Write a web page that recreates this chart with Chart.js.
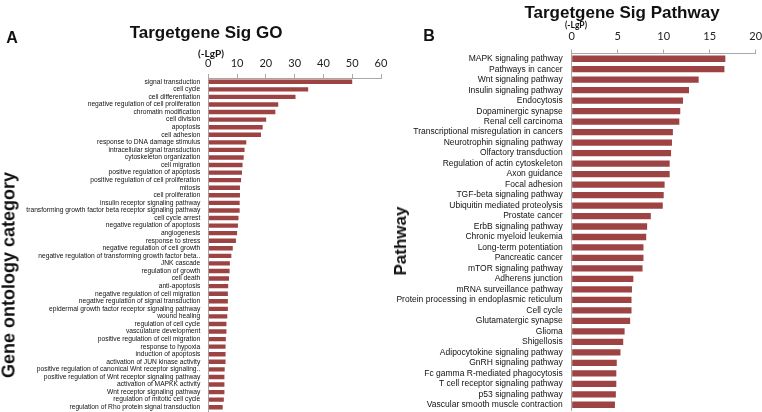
<!DOCTYPE html>
<html>
<head>
<meta charset="utf-8">
<script src="https://cdn.jsdelivr.net/npm/chart.js"></script>
<style>
  html, body { margin: 0; padding: 0; background: #fff; }
  body { width: 762px; height: 412px; position: relative; overflow: hidden; font-family: 'Liberation Sans', Arial, sans-serif; }
  canvas { position: absolute; top: 0; }
  .txt { position: absolute; transform: translate(-50%, -50%); white-space: nowrap; color: #111; font-weight: bold; }
  .rot { transform: translate(-50%, -50%) rotate(-90deg); }
</style>
</head>
<body>
<canvas id="goChart" width="400" height="412" style="left:0"></canvas>
<canvas id="pathChart" width="382" height="412" style="left:380px"></canvas>

<div class="txt" style="left:12px;top:38px;font-size:16px">A</div>
<div class="txt" style="left:206px;top:33px;font-size:17px">Targetgene Sig GO</div>
<div class="txt" style="left:211px;top:53px;font-size:10px;font-family:Lato">(-LgP)</div>
<div class="txt rot" style="left:9px;top:275px;font-size:18px">Gene ontology category</div>

<div class="txt" style="left:429px;top:36px;font-size:16px">B</div>
<div class="txt" style="left:622px;top:13px;font-size:17px">Targetgene Sig Pathway</div>
<div class="txt" style="left:576px;top:25px;font-size:8.5px;font-family:Lato">(-LgP)</div>
<div class="txt rot" style="left:401px;top:241px;font-size:17px">Pathway</div>

<script>
// GO terms (panel A)
const goLabels = [
  'signal transduction', 'cell cycle', 'cell differentiation',
  'negative regulation of cell proliferation', 'chromatin modification', 'cell division',
  'apoptosis', 'cell adhesion', 'response to DNA damage stimulus',
  'intracellular signal transduction', 'cytoskeleton organization', 'cell migration',
  'positive regulation of apoptosis', 'positive regulation of cell proliferation', 'mitosis',
  'cell proliferation', 'insulin receptor signaling pathway',
  'transforming growth factor beta receptor signaling pathway', 'cell cycle arrest',
  'negative regulation of apoptosis', 'angiogenesis', 'response to stress',
  'negative regulation of cell growth', 'negative regulation of transforming growth factor beta..',
  'JNK cascade', 'regulation of growth', 'cell death', 'anti-apoptosis',
  'negative regulation of cell migration', 'negative regulation of signal transduction',
  'epidermal growth factor receptor signaling pathway', 'wound healing',
  'regulation of cell cycle', 'vasculature development', 'positive regulation of cell migration',
  'response to hypoxia', 'induction of apoptosis', 'activation of JUN kinase activity',
  'positive regulation of canonical Wnt receptor signaling..',
  'positive regulation of Wnt receptor signaling pathway', 'activation of MAPKK activity',
  'Wnt receptor signaling pathway', 'regulation of mitotic cell cycle',
  'regulation of Rho protein signal transduction'
]
const goValues = [
  50.0, 34.7, 30.3, 24.3, 23.3, 20.1, 18.9, 18.3, 13.2, 12.6, 12.3, 11.9,
  11.7, 11.4, 11.0, 11.0, 10.9, 10.9, 10.5, 10.3, 10.0, 9.6, 8.5, 8.0,
  7.5, 7.4, 7.2, 6.9, 6.8, 6.8, 6.8, 6.6, 6.3, 6.3, 6.1, 6.0,
  6.0, 6.0, 5.7, 5.6, 5.6, 5.6, 5.4, 5.0
]
const goTickMax = 60
const goTickStep = 10

// KEGG pathways (panel B)
const pathLabels = [
  'MAPK signaling pathway', 'Pathways in cancer', 'Wnt signaling pathway',
  'Insulin signaling pathway', 'Endocytosis', 'Dopaminergic synapse', 'Renal cell carcinoma',
  'Transcriptional misregulation in cancers', 'Neurotrophin signaling pathway',
  'Olfactory transduction', 'Regulation of actin cytoskeleton', 'Axon guidance',
  'Focal adhesion', 'TGF-beta signaling pathway', 'Ubiquitin mediated proteolysis',
  'Prostate cancer', 'ErbB signaling pathway', 'Chronic myeloid leukemia',
  'Long-term potentiation', 'Pancreatic cancer', 'mTOR signaling pathway',
  'Adherens junction', 'mRNA surveillance pathway',
  'Protein processing in endoplasmic reticulum', 'Cell cycle', 'Glutamatergic synapse',
  'Glioma', 'Shigellosis', 'Adipocytokine signaling pathway', 'GnRH signaling pathway',
  'Fc gamma R-mediated phagocytosis', 'T cell receptor signaling pathway',
  'p53 signaling pathway', 'Vascular smooth muscle contraction'
]
const pathValues = [
  16.7, 16.6, 13.8, 12.75, 12.1, 11.8, 11.7, 11.0, 10.9, 10.8, 10.65, 10.65,
  10.1, 10.0, 9.9, 8.6, 8.2, 8.1, 7.8, 7.8, 7.7, 6.7, 6.55, 6.5,
  6.5, 6.35, 5.75, 5.6, 5.3, 4.9, 4.85, 4.85, 4.8, 4.7
]
const pathTickMax = 20
const pathTickStep = 5

const barColor = '#9e4343'
const axisColor = '#a8a8a8'

function makeChart (id, labels, values, opts) {
  return new Chart(document.getElementById(id), {
    type: 'bar',
    data: {
      labels: labels,
      datasets: [{
        data: values,
        backgroundColor: barColor,
        borderWidth: 0,
        categoryPercentage: 1,
        barPercentage: opts.barPct
      }]
    },
    options: {
      indexAxis: 'y',
      responsive: false,
      animation: false,
      devicePixelRatio: 1,
      layout: { padding: { left: 0, top: 0, right: opts.padRight, bottom: opts.padBottom } },
      plugins: { legend: { display: false }, tooltip: { enabled: false } },
      scales: {
        x: {
          position: 'top',
          min: 0,
          max: opts.max,
          ticks: { stepSize: opts.step, color: '#222', padding: opts.tickPad, font: { family: 'Lato', size: opts.tickSize } },
          grid: { drawOnChartArea: false, drawTicks: true, tickLength: 4, color: axisColor },
          border: { display: true, color: axisColor },
          afterFit: (s) => {
            s.height = opts.top
            s.paddingLeft = 0
            s.paddingRight = 0
          }
        },
        y: {
          ticks: { autoSkip: false, color: '#111', padding: opts.labelPad, font: { family: 'Liberation Sans', size: opts.labelSize } },
          grid: { display: false, drawTicks: false },
          border: { display: true, color: axisColor },
          afterFit: (s) => {
            s.width = opts.left
            s.paddingTop = 0
            s.paddingBottom = 0
          }
        }
      }
    }
  })
}

makeChart('goChart', goLabels, goValues, {
  max: goTickMax, step: goTickStep, left: 208.3, top: 78, padRight: 19, padBottom: 1,
  barPct: 0.58, tickPad: 4, tickSize: 11, labelPad: 8, labelSize: 6.7
})

makeChart('pathChart', pathLabels, pathValues, {
  max: pathTickMax, step: pathTickStep, left: 191.7, top: 53.5, padRight: 6.3, padBottom: 2,
  barPct: 0.6, tickPad: 6, tickSize: 11, labelPad: 9, labelSize: 8.5
})
</script>
</body>
</html>
